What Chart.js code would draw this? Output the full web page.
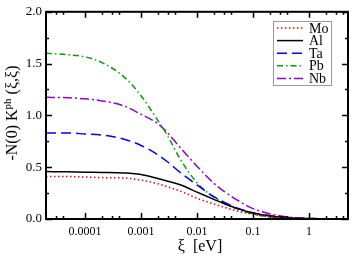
<!DOCTYPE html>
<html>
<head>
<meta charset="utf-8">
<script src="https://cdn.jsdelivr.net/npm/chart.js@4"></script>
<style>
  html, body { margin: 0; padding: 0; background: #fff; }
  #wrap { width: 353px; height: 257px; }
</style>
</head>
<body>
<div id="wrap"><canvas id="grafico" width="353" height="257"></canvas></div>
<script>
// energias (eV), eje logaritmico
const xi = [2e-5, 5e-5, 1e-4, 2e-4, 5e-4, 1e-3, 2e-3, 3e-3, 5e-3, 0.01, 0.02, 0.03, 0.05, 0.1, 0.2, 0.3, 0.5, 1, 2, 5];

const mo = [0.41, 0.41, 0.405, 0.40, 0.395, 0.375, 0.34, 0.31, 0.27, 0.20, 0.145, 0.115, 0.08, 0.045, 0.022, 0.014, 0.007, 0.003, 0.001, 0.0];
const al = [0.458, 0.455, 0.452, 0.45, 0.445, 0.43, 0.39, 0.365, 0.33, 0.26, 0.19, 0.15, 0.105, 0.058, 0.03, 0.02, 0.01, 0.004, 0.001, 0.0];
const ta = [0.83, 0.83, 0.82, 0.81, 0.77, 0.71, 0.62, 0.55, 0.45, 0.33, 0.215, 0.165, 0.11, 0.06, 0.033, 0.022, 0.012, 0.005, 0.002, 0.0];
const pb = [1.60, 1.585, 1.565, 1.51, 1.37, 1.19, 0.95, 0.80, 0.58, 0.35, 0.21, 0.155, 0.10, 0.05, 0.02, 0.012, 0.006, 0.002, 0.001, 0.0];
const nb = [1.175, 1.17, 1.16, 1.14, 1.09, 1.01, 0.92, 0.83, 0.69, 0.51, 0.345, 0.27, 0.19, 0.10, 0.05, 0.032, 0.015, 0.005, 0.002, 0.0];

const etiquetas = ['Mo', 'Al', 'Ta', 'Pb', 'Nb'];

// marcas del eje x
const xMayores = [0.0001, 0.001, 0.01, 0.1, 1];
const xEtiquetas = ['0.0001', '0.001', '0.01', '0.1', '1'];
const xMenores = [3e-5, 4e-5, 2e-4, 3e-4, 4e-4, 2e-3, 3e-3, 4e-3, 0.02, 0.03, 0.04, 0.2, 0.3, 0.4, 2, 3, 4];

// marcas del eje y
const yMayores = [0, 0.5, 1.0, 1.5, 2.0];
const yEtiquetas = ['0.0', '0.5', '1.0', '1.5', '2.0'];
const yMenores = [0.25, 0.75, 1.25, 1.75];

const serif = '"Liberation Serif", "DejaVu Serif", serif';

const estilos = [
  { color: '#ff0000', dash: [1.5, 2.5] },
  { color: '#000000', dash: [] },
  { color: '#0000ff', dash: [10, 5] },
  { color: '#00a000', dash: [6, 3, 1.5, 3] },
  { color: '#9400d3', dash: [9, 3, 2, 3] },
];

const series = [mo, al, ta, pb, nb];

const datasets = series.map((serie, i) => ({
  label: etiquetas[i],
  data: serie.map((v, j) => ({ x: xi[j], y: v })),
  borderColor: estilos[i].color,
  borderDash: estilos[i].dash,
  borderWidth: 1.5,
  pointRadius: 0,
  fill: false,
  cubicInterpolationMode: 'monotone',
}));

// marco, marcas hacia dentro, leyenda y titulos
const decoracion = {
  id: 'decoracion',
  afterDatasetsDraw(chart) {
    const ctx = chart.ctx;
    const { left, right, top, bottom } = chart.chartArea;
    const sx = chart.scales.x;
    const sy = chart.scales.y;
    ctx.save();
    ctx.setLineDash([]);
    ctx.strokeStyle = '#000';

    ctx.lineWidth = 1.5;
    const marca = (vals, largo) => {
      vals.forEach(v => {
        const px = Math.round(sx.getPixelForValue(v)) + 0.5;
        ctx.beginPath();
        ctx.moveTo(px, bottom); ctx.lineTo(px, bottom - largo);
        ctx.moveTo(px, top); ctx.lineTo(px, top + largo);
        ctx.stroke();
      });
    };
    marca(xMayores, 6);
    marca(xMenores, 3);
    const marcaY = (vals, largo) => {
      vals.forEach(v => {
        const py = Math.round(sy.getPixelForValue(v)) + 0.5;
        ctx.beginPath();
        ctx.moveTo(left, py); ctx.lineTo(left + largo, py);
        ctx.moveTo(right, py); ctx.lineTo(right - largo, py);
        ctx.stroke();
      });
    };
    marcaY(yMayores, 6);
    marcaY(yMenores, 3);

    ctx.lineWidth = 2;
    ctx.strokeRect(left, top, right - left, bottom - top);

    // leyenda
    const lx = 273, ly = 21, lw = 58, lh = 64;
    ctx.fillStyle = '#fff';
    ctx.fillRect(lx, ly, lw, lh);
    ctx.lineWidth = 1;
    ctx.strokeStyle = '#999';
    ctx.strokeRect(lx + 0.5, ly + 0.5, lw, lh);
    ctx.font = '14px ' + serif;
    ctx.textBaseline = 'middle';
    ctx.textAlign = 'left';
    chart.data.datasets.forEach((ds, i) => {
      const yy = ly + 7 + i * 12.6;
      ctx.strokeStyle = ds.borderColor;
      ctx.setLineDash(ds.borderDash);
      ctx.lineWidth = 1.5;
      ctx.beginPath();
      ctx.moveTo(277, yy); ctx.lineTo(303, yy);
      ctx.stroke();
      ctx.fillStyle = '#000';
      ctx.fillText(ds.label, 309, yy + 1);
    });
    ctx.setLineDash([]);

    // titulo eje x
    ctx.fillStyle = '#000';
    ctx.font = '16px ' + serif;
    ctx.textAlign = 'center';
    ctx.textBaseline = 'alphabetic';
    ctx.fillText('\u03be  [eV]', 200, 251);

    // titulo eje y con superindice
    ctx.translate(17, 113);
    ctx.rotate(-Math.PI / 2);
    const p1 = '-N(0) K', p2 = 'ph', p3 = ' (\u03be,\u03be)';
    ctx.font = '16px ' + serif;
    const w1 = ctx.measureText(p1).width;
    const w3 = ctx.measureText(p3).width;
    ctx.font = '11px ' + serif;
    const w2 = ctx.measureText(p2).width;
    const total = w1 + w2 + w3;
    let cx = -total / 2;
    ctx.textAlign = 'left';
    ctx.font = '16px ' + serif;
    ctx.fillText(p1, cx, 0); cx += w1;
    ctx.font = '11px ' + serif;
    ctx.fillText(p2, cx, -6); cx += w2;
    ctx.font = '16px ' + serif;
    ctx.fillText(p3, cx, 0);
    ctx.restore();
  }
};

new Chart(document.getElementById('grafico'), {
  type: 'line',
  data: { datasets: datasets },
  options: {
    responsive: false,
    animation: false,
    layout: { padding: { top: 5, right: 5, left: 0, bottom: 0 } },
    plugins: { legend: { display: false }, tooltip: { enabled: false } },
    scales: {
      x: {
        type: 'logarithmic',
        min: 2e-5,
        max: 5,
        grid: { display: false, drawTicks: false },
        border: { display: false },
        afterBuildTicks: (scale) => { scale.ticks = xMayores.map(v => ({ value: v })); },
        afterFit: (scale) => { scale.height = 38; },
        ticks: {
          autoSkip: false,
          maxRotation: 0,
          padding: 6,
          color: '#000',
          font: { family: serif, size: 12 },
          callback: (v) => { const k = xMayores.indexOf(v); return k >= 0 ? xEtiquetas[k] : ''; },
        },
      },
      y: {
        min: 0,
        max: 2,
        grid: { display: false, drawTicks: false },
        border: { display: false },
        afterBuildTicks: (scale) => { scale.ticks = yMayores.map(v => ({ value: v })); },
        afterFit: (scale) => { scale.width = 46; },
        ticks: {
          padding: 4,
          color: '#000',
          font: { family: serif, size: 13 },
          callback: (v) => { const k = yMayores.indexOf(v); return k >= 0 ? yEtiquetas[k] : ''; },
        },
      },
    },
  },
  plugins: [decoracion],
});
</script>
</body>
</html>
